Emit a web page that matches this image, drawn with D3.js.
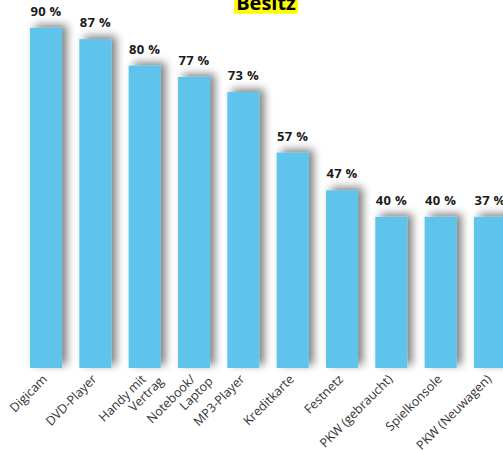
<!DOCTYPE html>
<html>
<head>
<meta charset="utf-8">
<script src="https://cdn.jsdelivr.net/npm/d3@7"></script>
<style>
  html, body { margin: 0; padding: 0; background: #fff; }
  svg { display: block; font-family: "Open Sans", "DejaVu Sans", sans-serif; }
</style>
</head>
<body>
<div id="chart"></div>
<script>
// categories (multi-line labels split by \n)
const categories = ["Digicam", "DVD-Player", "Handy mit\nVertrag", "Notebook/\nLaptop", "MP3-Player",
                    "Kreditkarte", "Festnetz", "PKW (gebraucht)", "Spielkonsole", "PKW (Neuwagen)"];
// bar heights as drawn (percent)
const shares = [90, 87, 80, 77, 73, 57, 47, 40, 40, 40];
// printed value labels
const shareLabels = ["90 %", "87 %", "80 %", "77 %", "73 %", "57 %", "47 %", "40 %", "40 %", "37 %"];
const title = "Besitz";

const width = 503, height = 450;
const baseY = 368;

const svg = d3.select("#chart")
    .append("svg")
    .attr("width", width)
    .attr("height", height);

// soft grey drop shadow behind the bars
const defs = svg.append("defs");
const f = defs.append("filter")
    .attr("id", "shadow")
    .attr("x", "-40%").attr("y", "-10%")
    .attr("width", "180%").attr("height", "120%");
f.append("feGaussianBlur").attr("in", "SourceAlpha").attr("stdDeviation", 4).attr("result", "blur");
f.append("feOffset").attr("in", "blur").attr("dx", 5).attr("dy", -3).attr("result", "off");
f.append("feComponentTransfer").attr("in", "off").attr("result", "soft")
  .append("feFuncA").attr("type", "linear").attr("slope", 0.5);
const merge = f.append("feMerge");
merge.append("feMergeNode").attr("in", "soft");
merge.append("feMergeNode").attr("in", "SourceGraphic");

let x = d3.scaleBand()
    .domain(categories)
    .range([30, 506])
    .paddingInner(0.351)
    .paddingOuter(0);

let y = d3.scaleLinear()
    .domain([0, 100])
    .range([baseY, baseY - 378]);

svg.append("g")
  .selectAll("rect")
  .data(shares)
  .enter().append("rect")
    .attr("x", (d, i) => x(categories[i]))
    .attr("y", d => y(d))
    .attr("width", x.bandwidth())
    .attr("height", d => y(0) - y(d))
    .attr("fill", "#5ec4ec")
    .attr("filter", "url(#shadow)");

// value labels
svg.append("g")
  .selectAll("text")
  .data(shares)
  .enter().append("text")
    .attr("x", (d, i) => x(categories[i]) + x.bandwidth() / 2)
    .attr("y", d => y(d) - 12)
    .attr("text-anchor", "middle")
    .attr("font-size", 13)
    .attr("font-weight", "bold")
    .attr("letter-spacing", 0.3)
    .attr("fill", "#1a1a1a")
    .text((d, i) => shareLabels[i]);

// category labels, rotated
const labels = svg.append("g")
  .selectAll("text")
  .data(categories)
  .enter().append("text")
    .attr("transform", d => `translate(${x(d) + x.bandwidth() / 2 + 2},${baseY + 12}) rotate(-45)`)
    .attr("text-anchor", "end")
    .attr("font-size", 12.5)
    .attr("fill", "#333");

labels.each(function(d) {
    const lines = d.split("\n");
    const t = d3.select(this);
    lines.forEach((line, j) => {
        t.append("tspan")
          .attr("x", j ? 11 : 0)
          .attr("y", j ? 14 : 0)
          .text(line);
    });
});

// title with yellow highlight
const titleG = svg.append("g");
const titleText = titleG.append("text")
    .attr("x", 266)
    .attr("y", 10)
    .attr("text-anchor", "middle")
    .attr("font-size", 20)
    .attr("font-weight", "bold")
    .attr("fill", "#000")
    .text(title);
const bb = titleText.node().getBBox();
titleG.insert("rect", "text")
    .attr("x", bb.x - 2)
    .attr("y", 0)
    .attr("width", bb.width + 4)
    .attr("height", 13.7)
    .attr("fill", "#ffff00");
</script>
</body>
</html>
